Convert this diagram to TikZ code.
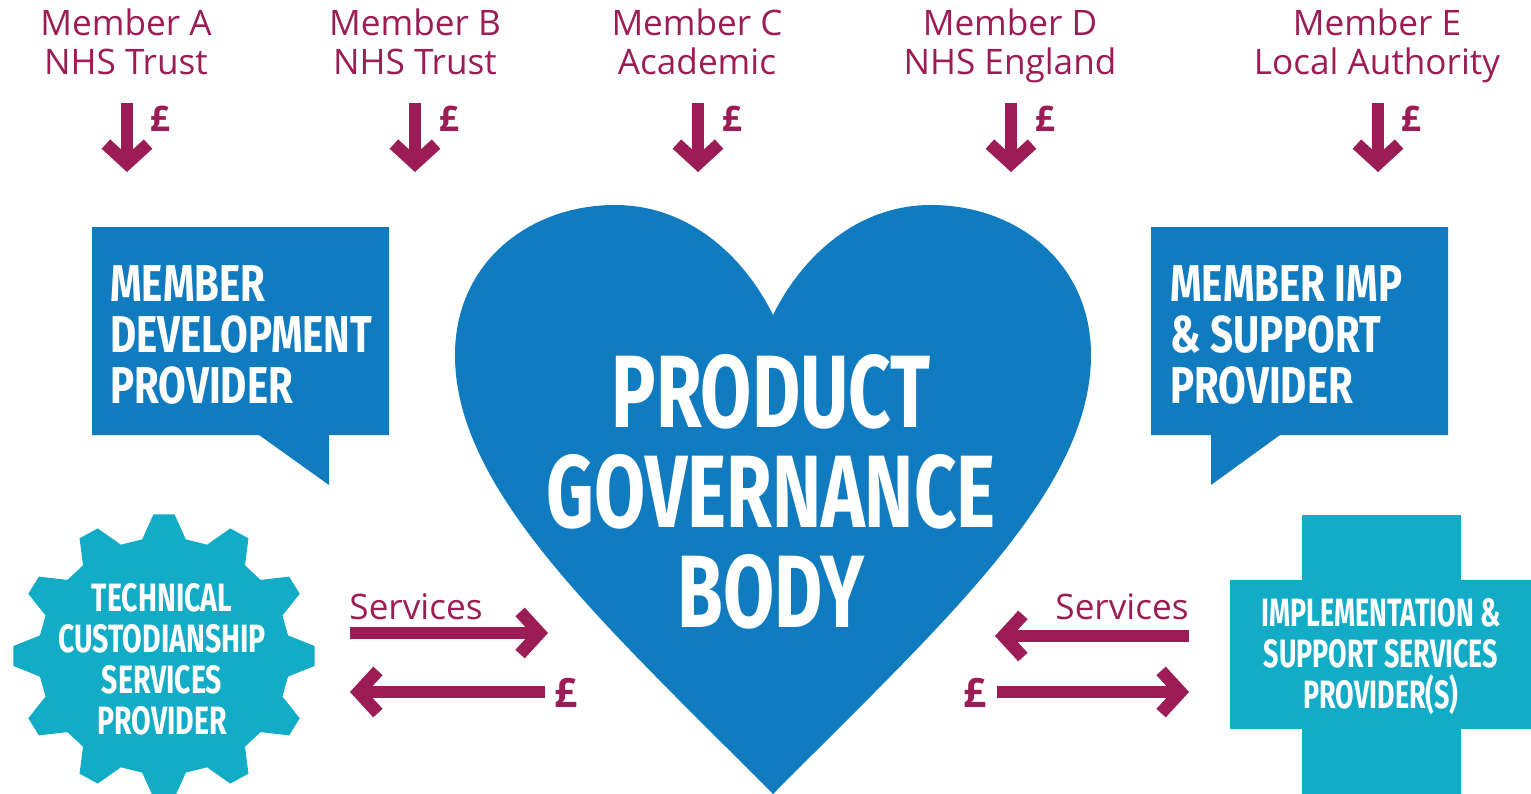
\documentclass[tikz,border=0pt]{standalone}
\usepackage{fontspec}
\setmainfont{Open Sans}
\newfontfamily\narrowfont[FakeStretch=0.72]{Fira Sans}
\newfontfamily\bubblefont[FakeStretch=0.775]{Fira Sans}
\newfontfamily\crossfont[FakeStretch=0.68]{Fira Sans}
\usetikzlibrary{arrows.meta,positioning}

\definecolor{plum}{HTML}{9C1D55}
\definecolor{heartblue}{HTML}{117BBF}
\definecolor{aqua}{HTML}{12ACC7}

\begin{document}
\begin{tikzpicture}[x=0.02cm, y=-0.02cm,
    member/.style={text=plum, align=center, anchor=north, inner sep=0pt,
        font=\fontsize{20}{22.5}\selectfont},
    pound/.style={text=plum, inner sep=0pt, font=\fontsize{20}{20}\selectfont\bfseries},
    flow/.style={draw=plum, line width=7.2pt,
        -{Straight Barb[length=11pt, width=24pt, sharp]}},
    bubbletext/.style={text=white, align=left, anchor=north west, inner sep=0pt,
        font=\bubblefont\bfseries\fontsize{29.5}{29}\selectfont},
    badgetext/.style={text=white, align=center, inner sep=0pt,
        font=\narrowfont\bfseries\fontsize{22.5}{23.3}\selectfont},
]
\useasboundingbox (0,0) rectangle (1531,794);

% members and their payments
\node[member] (ma) at (126,8) {Member A\\NHS Trust};
\node[member] (mb) at (415,8) {Member B\\NHS Trust};
\node[member] (mc) at (697,8) {Member C\\Academic};
\node[member] (md) at (1010,8) {Member D\\NHS England};
\node[member] (me) at (1377,8) {Member E\\Local Authority};

\coordinate (pa) at (127,172);
\coordinate (pb) at (415,172);
\coordinate (pc) at (698,172);
\coordinate (pd) at (1011,172);
\coordinate (pe) at (1378,172);

\draw[flow] (pa |- 0,103) -- (pa);
\draw[flow] (pb |- 0,103) -- (pb);
\draw[flow] (pc |- 0,103) -- (pc);
\draw[flow] (pd |- 0,103) -- (pd);
\draw[flow] (pe |- 0,103) -- (pe);

\node[pound] (la) at (160,119) {£};
\node[pound] (lb) at (449,119) {£};
\node[pound] (lc) at (732,119) {£};
\node[pound] (ld) at (1045,119) {£};
\node[pound] (le) at (1411,119) {£};

% heart
\fill[heartblue] (773,794) .. controls (600,620) and (455,490) .. (455,355)
    .. controls (455,262) and (530,205) .. (615,205)
    .. controls (690,205) and (745,258) .. (773,315)
    .. controls (801,258) and (856,205) .. (931,205)
    .. controls (1016,205) and (1091,262) .. (1091,355)
    .. controls (1091,490) and (946,620) .. (773,794) -- cycle;
\node[badgetext, font=\narrowfont\bfseries\fontsize{58.6}{56.9}\selectfont]
    (pgb) at (771,492) {PRODUCT\\GOVERNANCE\\BODY};

% speech bubbles
\fill[heartblue] (92,227) -- (389,227) -- (389,435) -- (329,435) -- (329,485)
    -- (259,435) -- (92,435) -- cycle;
\node[bubbletext] (mdp) at (110,265) {MEMBER\\DEVELOPMENT\\PROVIDER};

\fill[heartblue] (1151,227) -- (1448,227) -- (1448,435) -- (1280,435)
    -- (1211,485) -- (1211,435) -- (1151,435) -- cycle;
\node[bubbletext] (misp) at (1170,265) {MEMBER IMP\\\& SUPPORT\\PROVIDER};

% gear
\begin{scope}[shift={(164,656)}, yscale=0.94]
    \fill[aqua] (-10:126) \foreach \a in {0,30,...,330} {
        -- ({\a-10}:126) -- ({\a-4}:151) -- ({\a+4}:151) -- ({\a+10}:126)
    } -- cycle;
\end{scope}
\node[badgetext] (tcsp) at (162,659) {TECHNICAL\\CUSTODIANSHIP\\SERVICES\\PROVIDER};

% cross
\fill[aqua] (1302,515) rectangle (1461,794);
\fill[aqua] (1230,580) rectangle (1531,729);
\node[badgetext, font=\crossfont\bfseries\fontsize{22.5}{23.3}\selectfont]
    (issp) at (1381,657) {IMPLEMENTATION \&\\SUPPORT SERVICES\\PROVIDER(S)};

% services and payments
\coordinate (tcsp-out) at (350,633);
\coordinate (pgb-in) at (548,633);
\coordinate (pgb-out) at (545,692);
\coordinate (tcsp-in) at (350,692);
\draw[flow] (tcsp-out) -- (pgb-in);
\draw[flow] (pgb-out) -- (tcsp-in);
\node[member, anchor=center] (sl) at (416,607) {Services};
\node[pound, font=\fontsize{23}{23}\selectfont\bfseries] (pl) at (566,693) {£};

\coordinate (issp-out) at (1189,636);
\coordinate (pgb-in2) at (995,636);
\coordinate (pgb-out2) at (997,692);
\coordinate (issp-in) at (1189,692);
\draw[flow] (issp-out) -- (pgb-in2);
\draw[flow] (pgb-out2) -- (issp-in);
\node[member, anchor=center] (sr) at (1122,607) {Services};
\node[pound, font=\fontsize{23}{23}\selectfont\bfseries] (pr) at (975,693) {£};
\end{tikzpicture}
\end{document}
